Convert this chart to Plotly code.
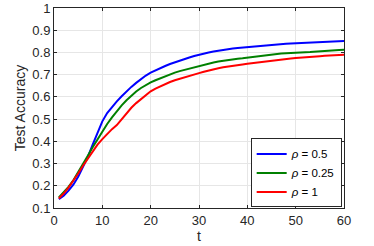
import plotly.graph_objects as go

t = list(range(1, 61))
acc_rho_05 = [0.140, 0.155, 0.178, 0.205, 0.240, 0.283, 0.330, 0.385, 0.440, 0.490,
              0.527, 0.555, 0.580, 0.603, 0.625, 0.645, 0.663, 0.680, 0.696, 0.709,
              0.720, 0.730, 0.739, 0.748, 0.756, 0.763, 0.770, 0.777, 0.784, 0.790,
              0.795, 0.800, 0.804, 0.808, 0.812, 0.816, 0.818, 0.820, 0.822, 0.825,
              0.828, 0.830, 0.832, 0.834, 0.835, 0.837, 0.838, 0.839, 0.840, 0.841,
              0.842, 0.843, 0.844, 0.845, 0.846, 0.847, 0.848, 0.849, 0.850, 0.851]
acc_rho_025 = [0.148, 0.170, 0.195, 0.225, 0.260, 0.298, 0.335, 0.373, 0.410, 0.445,
               0.478, 0.508, 0.536, 0.562, 0.585, 0.606, 0.624, 0.640, 0.653, 0.665,
               0.675, 0.684, 0.693, 0.701, 0.709, 0.716, 0.722, 0.728, 0.733, 0.738,
               0.744, 0.750, 0.755, 0.759, 0.763, 0.766, 0.769, 0.772, 0.774, 0.777,
               0.780, 0.783, 0.786, 0.789, 0.791, 0.793, 0.795, 0.796, 0.798, 0.799,
               0.800, 0.801, 0.802, 0.804, 0.805, 0.807, 0.808, 0.810, 0.811, 0.812]
acc_rho_1 = [0.143, 0.165, 0.192, 0.222, 0.255, 0.290, 0.323, 0.355, 0.385, 0.410,
             0.433, 0.455, 0.473, 0.500, 0.527, 0.551, 0.572, 0.591, 0.609, 0.625,
             0.637, 0.648, 0.658, 0.667, 0.675, 0.682, 0.689, 0.695, 0.701, 0.707,
             0.713, 0.719, 0.724, 0.729, 0.733, 0.737, 0.740, 0.743, 0.746, 0.749,
             0.752, 0.755, 0.758, 0.761, 0.764, 0.767, 0.769, 0.771, 0.773, 0.775,
             0.776, 0.778, 0.779, 0.781, 0.783, 0.785, 0.786, 0.788, 0.789, 0.790]

series = [
    ("<i>ρ</i> = 0.5", acc_rho_05, "#0000ff"),
    ("<i>ρ</i> = 0.25", acc_rho_025, "#008000"),
    ("<i>ρ</i> = 1", acc_rho_1, "#ff0000"),
]

x_ticks = [0, 10, 20, 30, 40, 50, 60]
y_ticks = [0.1, 0.2, 0.3, 0.4, 0.5, 0.6, 0.7, 0.8, 0.9, 1]
y_tick_text = ["0.1", "0.2", "0.3", "0.4", "0.5", "0.6", "0.7", "0.8", "0.9", "1"]

FONT = "Liberation Sans, Arial, sans-serif"

fig = go.Figure()
for name, vals, color in series:
    fig.add_trace(go.Scatter(x=t, y=vals, mode="lines", name=name,
                             line=dict(color=color, width=2)))

axis_common = dict(
    showline=True, linecolor="#262626", linewidth=1, mirror="ticks",
    ticks="inside", ticklen=3, tickcolor="#262626",
    showgrid=True, gridcolor="#e6e6e6", gridwidth=1,
    zeroline=False, automargin=False,
    tickfont=dict(family=FONT, size=13, color="#262626"),
)

fig.update_xaxes(range=[0, 60], tickvals=x_ticks,
                 title=dict(text="t", standoff=1,
                            font=dict(family=FONT, size=14, color="#262626")),
                 **axis_common)
fig.update_yaxes(range=[0.1, 1], tickvals=y_ticks, ticktext=y_tick_text,
                 title=dict(text="Test Accuracy", standoff=3,
                            font=dict(family=FONT, size=14, color="#262626")),
                 **axis_common)

fig.update_layout(
    width=374, height=246,
    margin=dict(l=54, r=30, t=8, b=38),
    paper_bgcolor="white", plot_bgcolor="white",
    showlegend=True,
    legend=dict(x=0.992, y=0.003, xanchor="right", yanchor="bottom",
                bgcolor="white", bordercolor="#262626", borderwidth=1,
                font=dict(family=FONT, size=11.5, color="#000000"),
                itemwidth=30, tracegroupgap=0),
)

fig.write_html("out.html",
               config={"displayModeBar": False, "staticPlot": True},
               post_script="document.body.style.margin='0';document.body.style.padding='0';document.body.style.overflow='hidden';")
